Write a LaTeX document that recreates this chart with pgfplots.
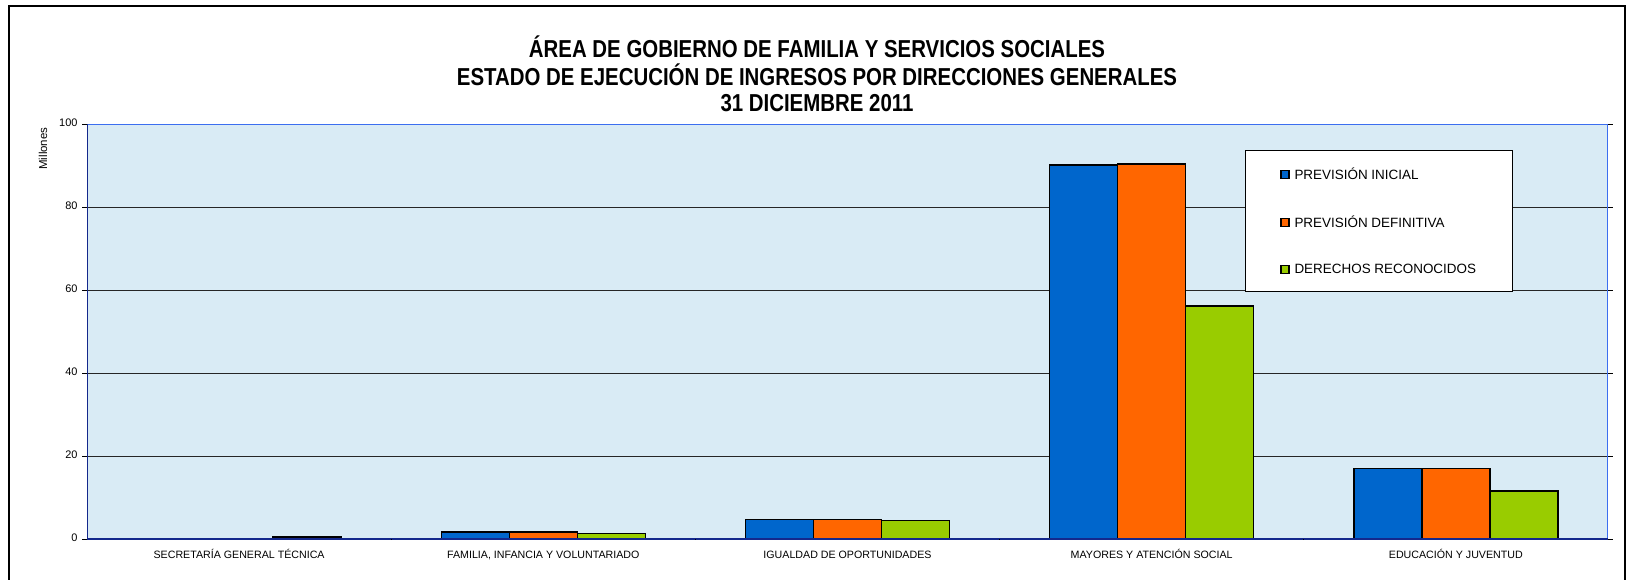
\documentclass[border=0pt]{standalone}
\usepackage{pgfplots}
\pgfplotsset{compat=1.18}
\usepackage{fontspec}
\setmainfont{Liberation Sans}
\definecolor{bgblue}{RGB}{217,235,245}
\definecolor{barblue}{RGB}{0,102,204}
\definecolor{barorange}{RGB}{255,102,0}
\definecolor{bargreen}{RGB}{153,204,0}
\definecolor{framenavy}{RGB}{20,40,140}
\definecolor{framebright}{RGB}{60,110,240}
\newcommand{\ttl}[1]{\scalebox{1}[1.2]{#1}}

\begin{document}
\begin{tikzpicture}
\useasboundingbox (0bp,0bp) rectangle (1635bp,-580bp);
\draw[line width=1.5bp] (9bp,-581bp) -- (9bp,-6bp) -- (1625bp,-6bp) -- (1625bp,-581bp);

% title
\begin{scope}[every node/.style={font=\fontsize{20.5}{24}\selectfont\bfseries}]
\node at (817bp,-47bp) {\ttl{ÁREA DE GOBIERNO DE FAMILIA Y SERVICIOS SOCIALES}};
\node at (817bp,-75bp) {\ttl{ESTADO DE EJECUCIÓN DE INGRESOS POR DIRECCIONES GENERALES}};
\node at (817bp,-103bp) {\ttl{31 DICIEMBRE 2011}};
\end{scope}

\node[rotate=90, anchor=east, font=\fontsize{11.5}{13}\selectfont] at (43bp,-124bp) {Millones};

\begin{axis}[
    at={(87bp,-539bp)}, anchor=south west,
    scale only axis,
    width=1521bp, height=415bp,
    xmin=-0.5, xmax=4.5,
    ymin=0, ymax=100,
    ybar=0pt, bar width=68bp,
    axis background/.style={fill=bgblue},
    axis line style={draw=none},
    xtick={0,1,2,3,4},
    xticklabels={SECRETARÍA GENERAL TÉCNICA, {FAMILIA, INFANCIA Y VOLUNTARIADO}, IGUALDAD DE OPORTUNIDADES, MAYORES Y ATENCIÓN SOCIAL, EDUCACIÓN Y JUVENTUD},
    xtick style={draw=none},
    ytick={0,20,...,100},
    ytick style={black, line width=0.8bp},
    tick align=outside,
    major tick length=5bp,
    ymajorgrids,
    grid style={black!85, line width=0.9bp},
    typeset ticklabels with strut,
    /pgf/number format/assume math mode=true,
    yticklabel style={font=\fontsize{11}{13}\selectfont, xshift=-1bp},
    xticklabel style={font=\fontsize{10.7}{13}\selectfont, yshift=-2bp},
    every axis plot/.append style={draw=black, line width=1.5bp},
    legend style={at={(rel axis cs:0.7613,0.937)}, anchor=north west,
        draw=black, line width=0.8bp, fill=white,
        inner xsep=35bp, inner ysep=17bp,
        row sep=35bp,
        font=\fontsize{13.5}{16}\selectfont,
        nodes={inner sep=0pt, anchor=west}},
    legend cell align=left,
    /tikz/every odd column/.append style={column sep=5bp},
    legend image code/.code={\draw[#1, line width=1.2bp] (0bp,-4bp) rectangle (8bp,4bp);},
]
\addplot[fill=barblue] coordinates {(0,0) (1,1.7) (2,4.7) (3,90.1) (4,17.0)};
\addlegendentry{\makebox[183bp][l]{PREVISIÓN INICIAL}}
\addplot[fill=barorange] coordinates {(0,0) (1,1.7) (2,4.7) (3,90.4) (4,17.0)};
\addlegendentry{\makebox[183bp][l]{PREVISIÓN DEFINITIVA}}
\addplot[fill=bargreen] coordinates {(0,0.5) (1,1.3) (2,4.4) (3,56.2) (4,11.6)};
\addlegendentry{\makebox[183bp][l]{DERECHOS RECONOCIDOS}}

\draw[framebright, line width=2bp] (rel axis cs:0,1) -- (rel axis cs:1,1) -- (rel axis cs:1,0);
\draw[framenavy, line width=2bp] (rel axis cs:0,1) -- (rel axis cs:0,0) -- (rel axis cs:1,0);
\pgfplotsinvokeforeach{0.5,1.5,2.5,3.5}{\draw[black, line width=0.8bp] (axis cs:#1,0) -- ++(0bp,-4bp);}
\end{axis}
\end{tikzpicture}
\end{document}
